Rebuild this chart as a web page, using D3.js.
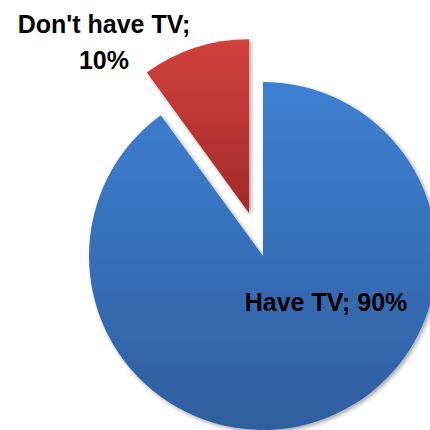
<!DOCTYPE html>
<html>
<head>
<meta charset="utf-8">
<script src="https://cdn.jsdelivr.net/npm/d3@7"></script>
<style>
  html, body { margin: 0; padding: 0; background: #fff; overflow: hidden; }
  svg { display: block; }
</style>
</head>
<body>
<script>
// Share of households with and without a TV
const categories = ["Have TV", "Don't have TV"];
const values = [90, 10];
const labelLines = [["Have TV; 90%"], ["Don't have TV;", "10%"]];

const W = 430, H = 430;
const cx = 263, cy = 256, radius = 174;
const explode = [0, 45];
const gradients = [["#3e80d2", "#2f5e9e"], ["#d2413c", "#a22a2a"]];
const labelPos = [[326, 311], [104, 33]];

const svg = d3.select("body").append("svg")
  .attr("width", W).attr("height", H);

const defs = svg.append("defs");
gradients.forEach((g, i) => {
  const lg = defs.append("linearGradient")
    .attr("id", "grad" + i)
    .attr("x1", 0).attr("y1", 0).attr("x2", 0).attr("y2", 1);
  lg.append("stop").attr("offset", "0%").attr("stop-color", g[0]);
  lg.append("stop").attr("offset", "100%").attr("stop-color", g[1]);
});
const shadow = defs.append("filter").attr("id", "shadow")
  .attr("x", "-10%").attr("y", "-10%").attr("width", "130%").attr("height", "130%");
shadow.append("feDropShadow")
  .attr("dx", 2).attr("dy", 2).attr("stdDeviation", 2)
  .attr("flood-color", "#000").attr("flood-opacity", 0.35);

const pie = d3.pie().sort(null).value(d => d);
const arc = d3.arc().innerRadius(0).outerRadius(radius);
const arcs = pie(values);

const g = svg.append("g").attr("transform", `translate(${cx},${cy})`);

g.selectAll("path.slice")
  .data(arcs)
  .join("path")
  .attr("class", "slice")
  .attr("transform", (d, i) => {
    const a = (d.startAngle + d.endAngle) / 2;
    return `translate(${Math.sin(a) * explode[i]},${-Math.cos(a) * explode[i]})`;
  })
  .attr("d", arc)
  .attr("fill", (d, i) => `url(#grad${i})`)
  .attr("filter", "url(#shadow)");

const labels = svg.selectAll("text.label")
  .data(categories)
  .join("text")
  .attr("class", "label")
  .attr("x", (d, i) => labelPos[i][0])
  .attr("y", (d, i) => labelPos[i][1])
  .attr("text-anchor", "middle")
  .attr("font-family", "'Liberation Sans', Arial, sans-serif")
  .attr("font-weight", "bold")
  .attr("font-size", 25)
  .attr("fill", "#000");

labels.each(function(d, i) {
  const t = d3.select(this);
  labelLines[i].forEach((line, j) => {
    t.append("tspan")
      .attr("x", labelPos[i][0])
      .attr("dy", j === 0 ? 0 : 36)
      .text(line);
  });
});
</script>
</body>
</html>
